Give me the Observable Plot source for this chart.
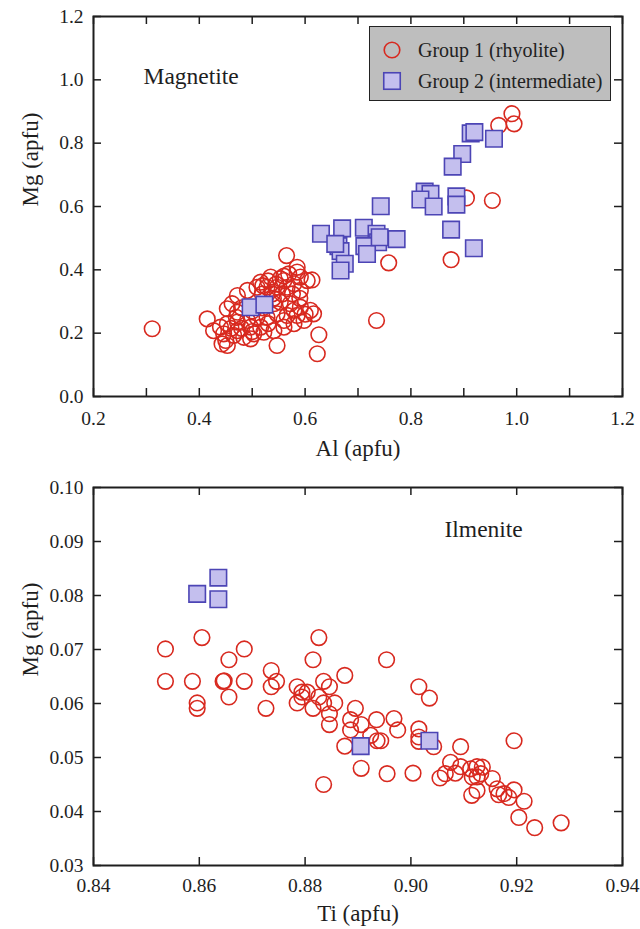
<!DOCTYPE html>
<html>
<head>
<meta charset="utf-8">
<script src="https://cdn.jsdelivr.net/npm/d3@7"></script>
<script src="https://cdn.jsdelivr.net/npm/@observablehq/plot@0.6"></script>
<style>
  html, body { margin: 0; padding: 0; background: white; }
  #wrap { position: relative; width: 640px; height: 929px; font-family: "Liberation Serif", "Times New Roman", serif; }
  #wrap svg { display: block; }
  .legend { position: absolute; left: 369px; top: 26px; width: 240px; height: 73px; background: #bebebe; border: 1.5px solid #222; font-size: 20px; color: #222; }
  .legend .row { position: absolute; left: 0; height: 24px; display: flex; align-items: center; white-space: nowrap; }
  .legend svg { display: inline-block !important; margin-left: 12px; margin-right: 16px; }
</style>
</head>
<body>
<div id="wrap"></div>
<script>
// ---------- Magnetite (top panel): [Al, Mg] ----------
const magnetiteGroup1 = [
  [0.311,0.214],[0.415,0.245],[0.516,0.361],[0.535,0.377],[0.553,0.372],[0.569,0.387],[0.585,0.393],
  [0.591,0.377],[0.579,0.356],[0.566,0.345],[0.547,0.345],[0.528,0.345],[0.509,0.345],[0.519,0.324],
  [0.538,0.324],[0.557,0.324],[0.576,0.324],[0.591,0.335],[0.604,0.366],[0.613,0.368],[0.565,0.445],
  [0.585,0.408],[0.491,0.335],[0.472,0.319],[0.462,0.293],[0.472,0.266],[0.553,0.298],[0.572,0.293],
  [0.591,0.282],[0.610,0.272],[0.616,0.261],[0.585,0.256],[0.566,0.256],[0.547,0.261],[0.528,0.250],
  [0.509,0.250],[0.491,0.240],[0.472,0.235],[0.453,0.230],[0.440,0.219],[0.427,0.208],[0.446,0.198],
  [0.465,0.193],[0.484,0.187],[0.503,0.198],[0.522,0.203],[0.541,0.208],[0.560,0.219],[0.579,0.230],
  [0.598,0.240],[0.450,0.177],[0.453,0.161],[0.443,0.166],[0.497,0.182],[0.516,0.219],[0.547,0.161],
  [0.626,0.195],[0.623,0.135],[0.541,0.293],[0.453,0.277],[0.560,0.366],[0.579,0.272],[0.497,0.219],
  [0.472,0.208],[0.530,0.365],[0.545,0.355],[0.560,0.380],[0.540,0.310],[0.520,0.280],[0.500,0.270],
  [0.470,0.250],[0.460,0.215],[0.480,0.215],[0.500,0.205],[0.530,0.230],[0.560,0.240],[0.590,0.310],
  [0.600,0.260],[0.520,0.350],[0.480,0.280],
  [0.991,0.893],[0.995,0.861],[0.966,0.856],[0.905,0.627],[0.954,0.619],[0.876,0.432],[0.758,0.422],[0.735,0.240]
];
const magnetiteGroup2 = [
  [0.913,0.831],[0.920,0.835],[0.957,0.814],[0.897,0.766],[0.879,0.726],[0.826,0.647],[0.837,0.640],
  [0.818,0.622],[0.843,0.600],[0.886,0.632],[0.886,0.606],[0.876,0.527],[0.919,0.468],[0.743,0.601],
  [0.630,0.514],[0.670,0.531],[0.711,0.533],[0.735,0.514],[0.738,0.487],[0.773,0.497],[0.663,0.475],
  [0.667,0.459],[0.712,0.475],[0.717,0.450],[0.675,0.419],[0.667,0.398],[0.657,0.482],[0.741,0.503],
  [0.497,0.282],[0.523,0.290]
];
// ---------- Ilmenite (bottom panel): [Ti, Mg] ----------
const ilmeniteGroup1 = [
  [0.8536,0.0701],[0.8605,0.0722],[0.8656,0.0681],[0.8685,0.0701],[0.8536,0.0641],[0.8587,0.0641],
  [0.8645,0.0641],[0.8647,0.0642],[0.8685,0.0641],[0.8596,0.0601],[0.8596,0.0591],[0.8656,0.0612],
  [0.8736,0.0661],[0.8746,0.0641],[0.8736,0.0631],[0.8726,0.0591],[0.8826,0.0722],[0.8815,0.0681],
  [0.8875,0.0652],[0.8785,0.0631],[0.8794,0.0621],[0.8804,0.0621],[0.8785,0.0601],[0.8794,0.0612],
  [0.8815,0.0591],[0.8826,0.0612],[0.8835,0.0641],[0.8846,0.0631],[0.8835,0.0601],[0.8856,0.0601],
  [0.8846,0.0581],[0.8846,0.0561],[0.8895,0.0591],[0.8886,0.0570],[0.8886,0.0551],[0.8906,0.0561],
  [0.8875,0.0521],[0.8906,0.0480],[0.8835,0.0450],[0.8924,0.0541],[0.8936,0.0531],[0.8935,0.0570],
  [0.8954,0.0681],[0.8955,0.0470],
  [0.9015,0.0631],[0.9035,0.0610],[0.8968,0.0572],[0.8975,0.0551],[0.8943,0.0531],[0.9015,0.0553],
  [0.9015,0.0538],[0.9015,0.0530],[0.9043,0.0520],[0.9094,0.0520],[0.9195,0.0531],[0.9004,0.0471],
  [0.9075,0.0491],[0.9055,0.0462],[0.9065,0.0470],[0.9084,0.0471],[0.9094,0.0483],[0.9113,0.0479],
  [0.9125,0.0483],[0.9135,0.0482],[0.9116,0.0464],[0.9125,0.0464],[0.9132,0.0470],[0.9154,0.0461],
  [0.9125,0.0439],[0.9115,0.0430],[0.9163,0.0442],[0.9166,0.0431],[0.9176,0.0433],[0.9185,0.0426],
  [0.9195,0.0440],[0.9214,0.0419],[0.9204,0.0389],[0.9234,0.0370],[0.9284,0.0379]
];
const ilmeniteGroup2 = [
  [0.8636,0.0833],[0.8596,0.0803],[0.8636,0.0793],[0.8905,0.0521],[0.9035,0.0531]
];

// ---------- ticks & labels ----------
const topXLabelTicks = [0.2, 0.4, 0.6, 0.8, 1.0, 1.2];
const topXMarkTicks = [0.2, 0.3, 0.4, 0.5, 0.6, 0.7, 0.8, 0.9, 1.0, 1.1, 1.2];
const topYTicks = [0.0, 0.2, 0.4, 0.6, 0.8, 1.0, 1.2];
const bottomXTicks = [0.84, 0.86, 0.88, 0.90, 0.92, 0.94];
const bottomYTicks = [0.03, 0.04, 0.05, 0.06, 0.07, 0.08, 0.09, 0.10];
const seriesNames = ["Group 1 (rhyolite)", "Group 2 (intermediate)"];
const panelNames = ["Magnetite", "Ilmenite"];
const axisTitles = { topX: "Al (apfu)", topY: "Mg (apfu)", bottomX: "Ti (apfu)", bottomY: "Mg (apfu)" };

const RED = "#d8291f", FILL2 = "#c4bfee", STROKE2 = "#4c45b5", INK = "#1e1e1e";
const FONT = '"Liberation Serif", "Times New Roman", serif';
const TICK = 8;

function panel({width, height, mt, mb, ml, mr, xDomain, yDomain, xLabelTicks, xMarkTicks, yTicks, fmtX, fmtY, g1, g2, name, nameDx, nameDy, xTitle, yTitle, xTitleDy, xPad}) {
  const ih = height - mt - mb, iw = width - ml - mr;
  return Plot.plot({
    width, height, marginTop: mt, marginBottom: mb, marginLeft: ml, marginRight: mr,
    style: {fontFamily: FONT, fontSize: "19px", color: INK, background: "white"},
    x: {domain: xDomain},
    y: {domain: yDomain},
    marks: [
      Plot.axisX(xLabelTicks, {tickSize: 0, tickPadding: xPad, tickFormat: fmtX, label: null, fontSize: 19.5}),
      Plot.axisY(yTicks, {tickSize: 0, tickPadding: 10, tickFormat: fmtY, label: null, fontSize: 19.5}),
      Plot.tickX(xMarkTicks, {x: d => d, insetTop: ih - TICK, stroke: INK, strokeWidth: 1.5}),
      Plot.tickX(xMarkTicks, {x: d => d, insetBottom: ih - TICK, stroke: INK, strokeWidth: 1.5}),
      Plot.tickY(yTicks, {y: d => d, insetRight: iw - TICK, stroke: INK, strokeWidth: 1.5}),
      Plot.tickY(yTicks, {y: d => d, insetLeft: iw - TICK, stroke: INK, strokeWidth: 1.5}),
      Plot.dot(g1, {x: d => d[0], y: d => d[1], r: 7.8, fill: "none", stroke: RED, strokeWidth: 1.6}),
      Plot.dot(g2, {x: d => d[0], y: d => d[1], symbol: "square", r: 9.3, fill: FILL2, stroke: STROKE2, strokeWidth: 1.6}),
      Plot.text([name], {frameAnchor: "top-left", lineAnchor: "middle", dx: nameDx, dy: nameDy, textAnchor: "start", fontSize: 23.5, fill: INK}),
      Plot.text([xTitle], {frameAnchor: "bottom", lineAnchor: "middle", dy: xTitleDy, fontSize: 23, fill: INK}),
      Plot.text([yTitle], {frameAnchor: "left", lineAnchor: "middle", dx: -63, rotate: -90, fontSize: 23, fill: INK}),
      Plot.frame({stroke: INK, strokeWidth: 2})
    ]
  });
}

const wrap = document.getElementById("wrap");
wrap.appendChild(panel({
  width: 640, height: 465, mt: 16, mb: 69, ml: 93, mr: 18,
  xDomain: [0.2, 1.2], yDomain: [0, 1.2],
  xLabelTicks: topXLabelTicks, xMarkTicks: topXMarkTicks, yTicks: topYTicks,
  fmtX: d3.format(".1f"), fmtY: d3.format(".1f"),
  g1: magnetiteGroup1, g2: magnetiteGroup2,
  name: panelNames[0], nameDx: 50, nameDy: 60,
  xTitle: axisTitles.topX, yTitle: axisTitles.topY, xTitleDy: 52, xPad: 15
}));
wrap.appendChild(panel({
  width: 640, height: 464, mt: 22, mb: 64, ml: 93, mr: 18,
  xDomain: [0.84, 0.94], yDomain: [0.03, 0.10],
  xLabelTicks: bottomXTicks, xMarkTicks: bottomXTicks, yTicks: bottomYTicks,
  fmtX: d3.format(".2f"), fmtY: d3.format(".2f"),
  g1: ilmeniteGroup1, g2: ilmeniteGroup2,
  name: panelNames[1], nameDx: 351, nameDy: 42,
  xTitle: axisTitles.bottomX, yTitle: axisTitles.bottomY, xTitleDy: 48, xPad: 13
}));

// legend (inside top panel)
const legend = document.createElement("div");
legend.className = "legend";
legend.innerHTML = `
  <div class="row" style="top:11px">
    <svg width="20" height="20"><circle cx="10" cy="10" r="7.8" fill="none" stroke="${RED}" stroke-width="1.6"/></svg>
    <span>${seriesNames[0]}</span>
  </div>
  <div class="row" style="top:42px">
    <svg width="20" height="20"><rect x="1.75" y="1.75" width="16.5" height="16.5" fill="${FILL2}" stroke="${STROKE2}" stroke-width="1.6"/></svg>
    <span>${seriesNames[1]}</span>
  </div>`;
wrap.appendChild(legend);
</script>
</body>
</html>
